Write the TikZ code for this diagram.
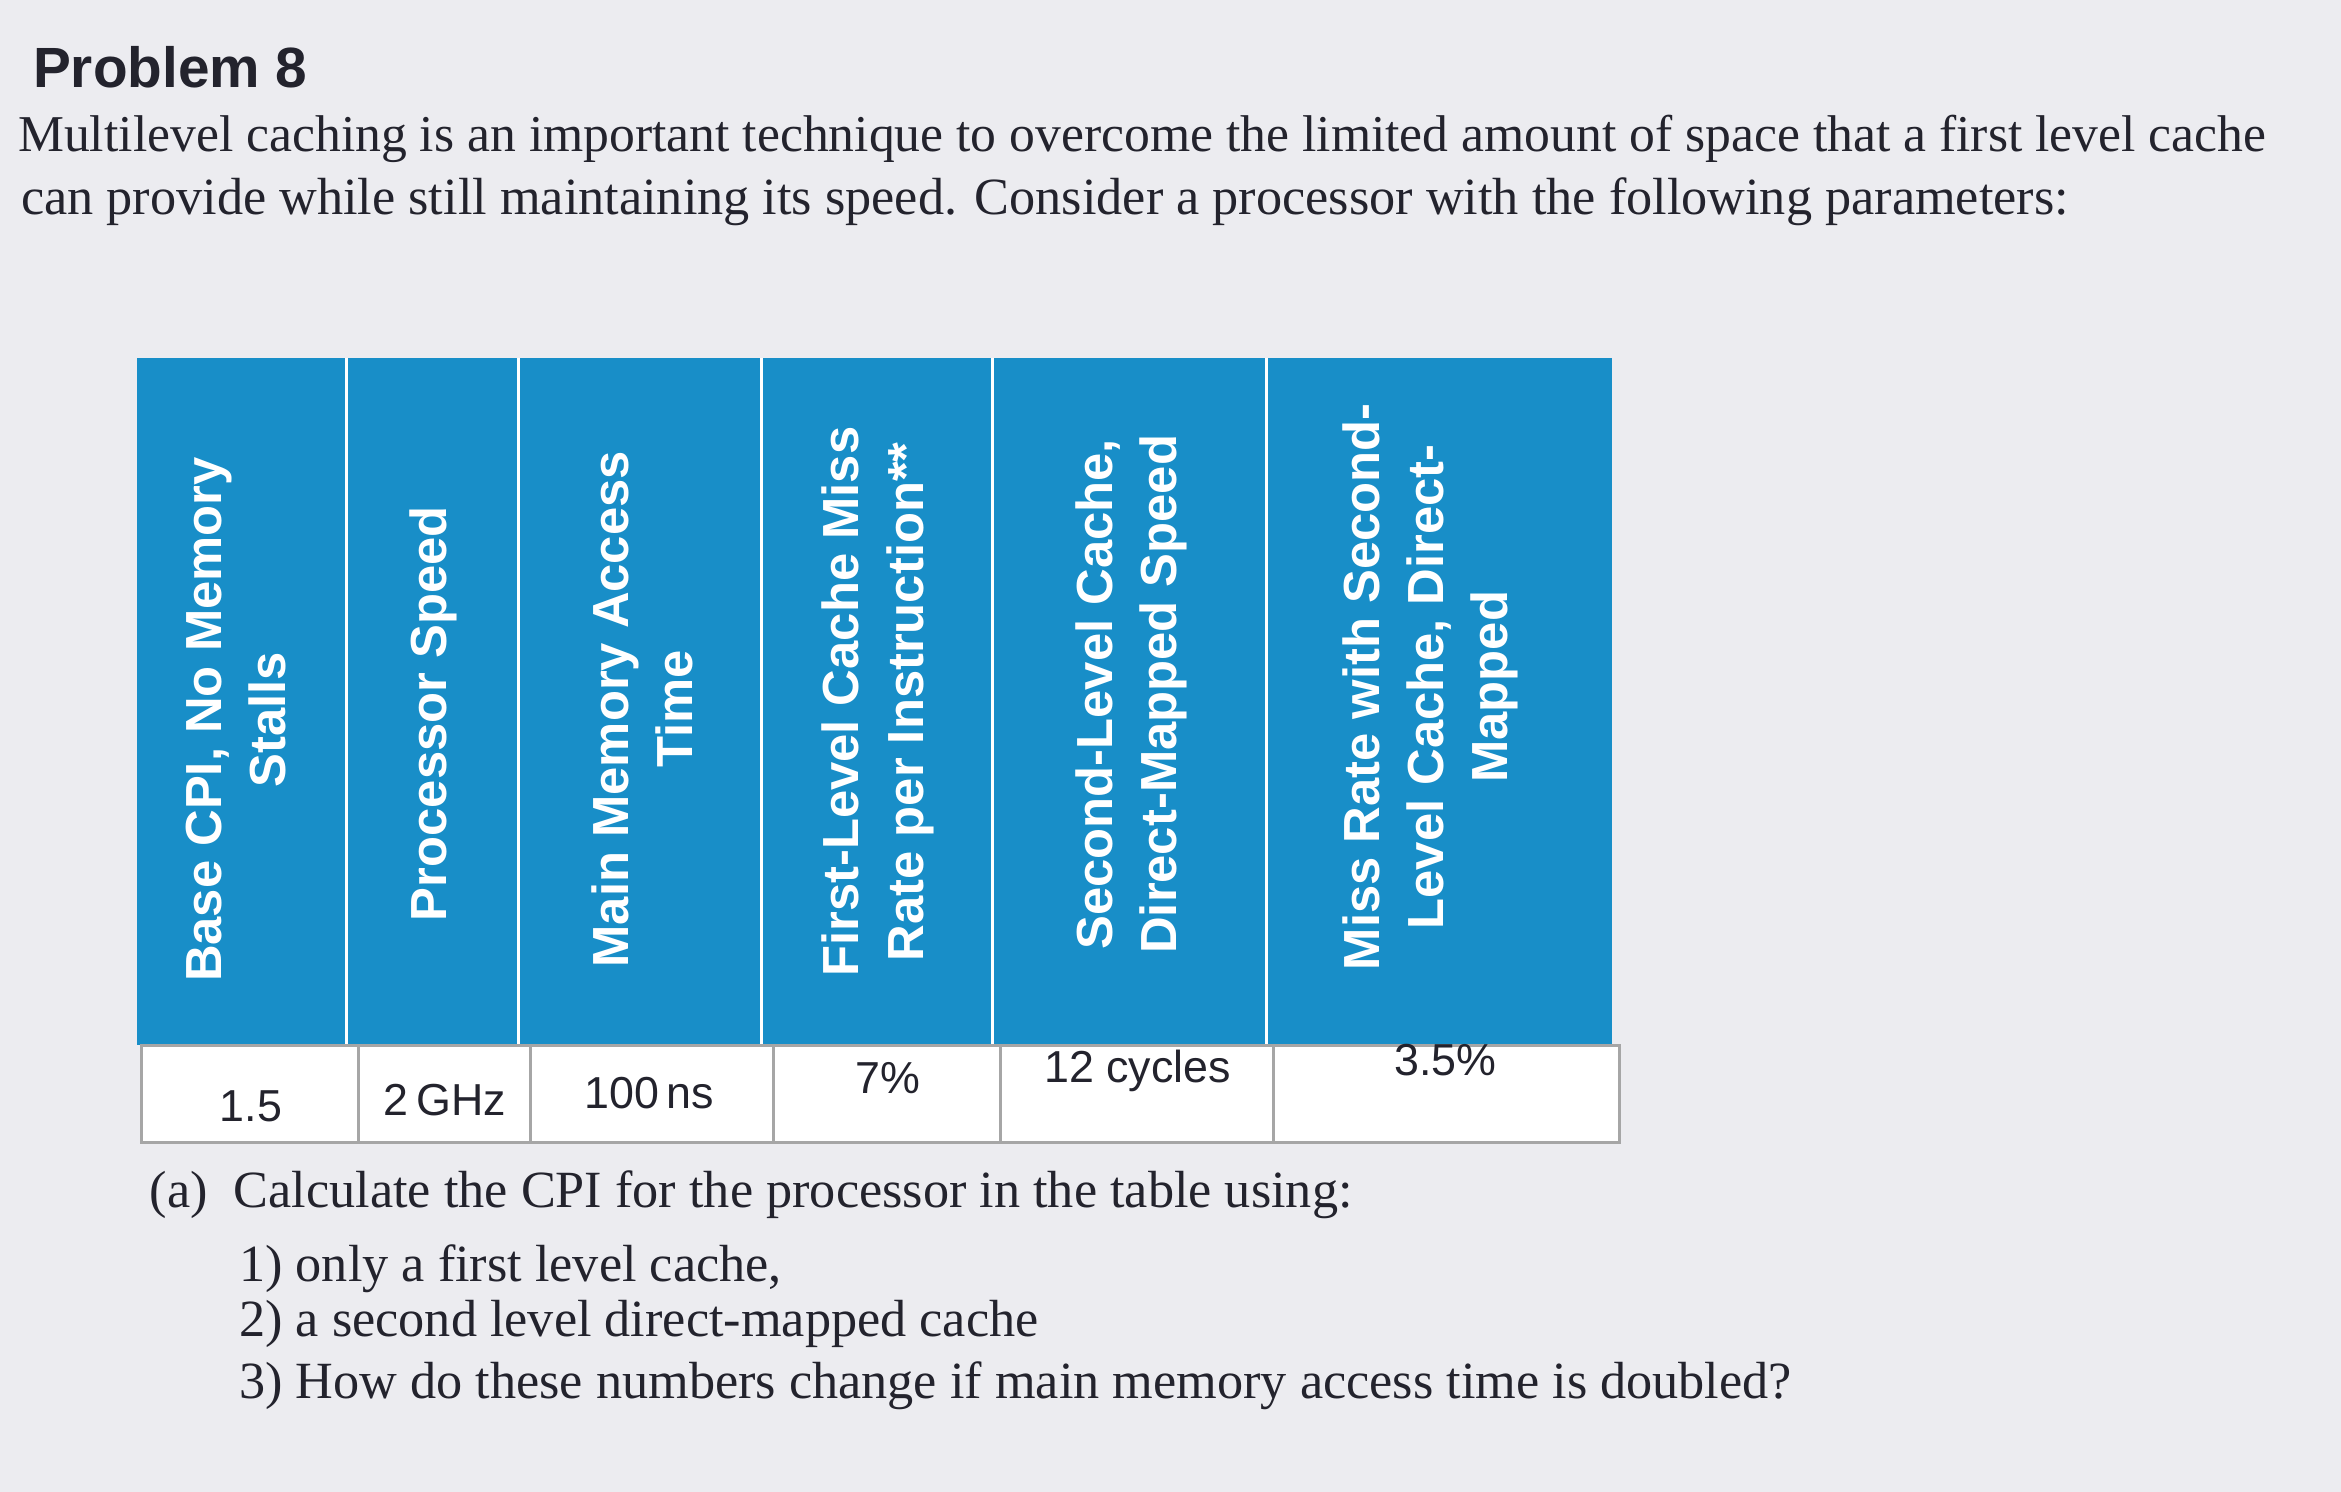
\documentclass[tikz,border=0pt]{standalone}
\usepackage{fontspec}
\setmainfont{Liberation Serif}
\newfontfamily\hsans{Liberation Sans}
\definecolor{tblue}{RGB}{24,142,200}
\definecolor{bg}{RGB}{236,236,240}
\definecolor{ink}{RGB}{35,35,45}
\begin{document}
\begin{tikzpicture}[x=1pt,y=-1pt,
  para/.style={anchor=west,inner sep=0,text=ink,font=\fontsize{35}{40}\selectfont},
  head/.style={rotate=90,align=center,text=white,inner sep=0,font=\hsans\bfseries\fontsize{34}{43}\selectfont},
  val/.style={inner sep=0,text=ink,font=\hsans\fontsize{30}{34}\selectfont},
  grid/.style={draw=gray!70,line width=2pt}]
\fill[bg] (0,0) rectangle (1568,999);
\useasboundingbox (0,0) rectangle (1568,999);
\node[anchor=west,inner sep=0,text=ink,font=\hsans\bfseries\fontsize{38}{40}\selectfont] (title) at (22,45) {Problem 8};
\node[para,font=\fontsize{34.6}{40}\selectfont] (p1) at (12,93) {Multilevel caching is an important technique to overcome the limited amount of space that a first level cache};
\node[para] (p2) at (14,135) {can provide while still maintaining its speed. Consider a processor with the following parameters:};
% table
\fill[tblue] (92,240) rectangle (1080,700);
\foreach \x in {232,347,510,665,848} \draw[white,line width=2pt] (\x,240) -- (\x,700);
\draw[grid,fill=white] (95,700) rectangle (1085,765);
\foreach \x in {240,355,518,670,853} \draw[grid] (\x,700) -- (\x,765);
\node[head] (h1) at (158,482) {Base CPI, No Memory\\Stalls};
\node[head] (h2) at (290,478) {Processor Speed};
\node[head] (h3) at (430,475) {Main Memory Access\\Time};
\node[head] (h4) at (588,470) {First-Level Cache Miss\\Rate per Instruction**};
\node[head] (h5) at (758,465) {Second-Level Cache,\\Direct-Mapped Speed};
\node[head] (h6) at (958,460) {Miss Rate with Second-\\Level Cache, Direct-\\Mapped};
\node[val] (v1) at (168,741) {1.5};
\node[val] (v2) at (298,737) {2\,GHz};
\node[val] (v3) at (435,732) {100\,ns};
\node[val] (v4) at (595,722) {7\%};
\node[val] (v5) at (762,717) {12 cycles};
\node[val] (v6) at (968,710) {3.5\%};
\node[para] (a) at (100,800) {(a)\ \ Calculate the CPI for the processor in the table using:};
\node[para] (a1) at (160,850) {1) only a first level cache,};
\node[para] (a2) at (160,887) {2) a second level direct-mapped cache};
\node[para] (a3) at (160,928) {3) How do these numbers change if main memory access time is doubled?};
\end{tikzpicture}
\end{document}
